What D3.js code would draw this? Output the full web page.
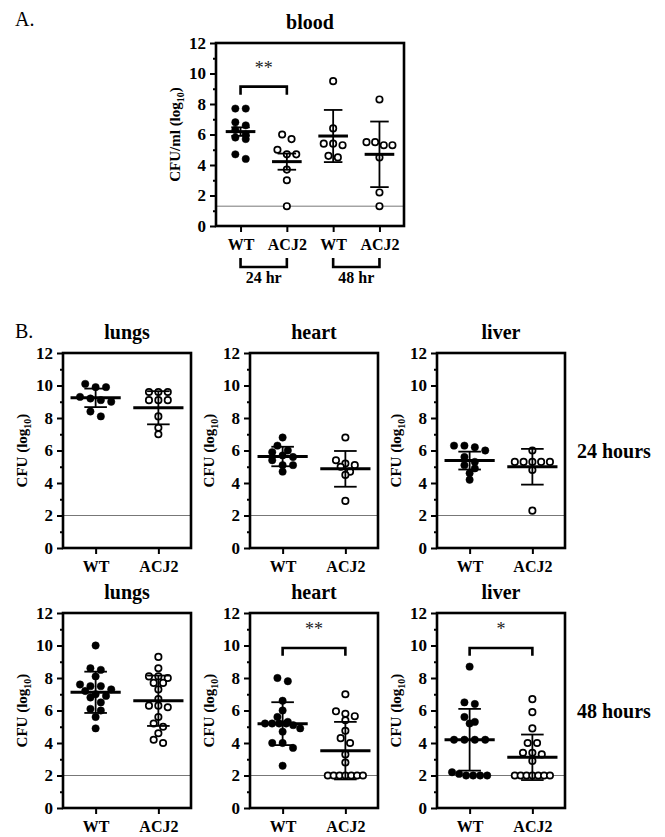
<!DOCTYPE html>
<html>
<head>
<meta charset="utf-8">
<script src="https://cdn.jsdelivr.net/npm/d3@7"></script>
<style>
  body { margin: 0; background: #fff; }
  text { font-family: "Liberation Serif", "Times New Roman", serif; }
</style>
</head>
<body>
<script>
// ---- data (log10 CFU) ----
const groups = ["WT", "ACJ2"];
const bloodGroups = ["WT", "ACJ2", "WT", "ACJ2"];
const bloodTimes = ["24 hr", "48 hr"];
const organs = ["lungs", "heart", "liver"];
const rowLabels = ["24 hours", "48 hours"];
const yTicks = [0, 2, 4, 6, 8, 10, 12];

const bloodWT24 = [7.7, 7.7, 6.8, 6.6, 6.3, 6.0, 5.8, 5.7, 4.7, 4.4];
const bloodACJ24 = [6.0, 5.7, 5.0, 4.7, 4.7, 3.7, 3.0, 1.3];
const bloodWT48 = [9.5, 6.4, 5.4, 5.4, 5.3, 4.6, 4.5];
const bloodACJ48 = [8.3, 5.5, 5.5, 5.3, 5.3, 4.5, 2.2, 1.3];
const bloodMean = [6.19, 4.22, 5.9, 4.7];
const bloodErr = [0.28, 0.53, 1.71, 2.15];
const bloodFilled = [true, false, false, false];

const lungs24WT = [10.1, 9.9, 9.9, 9.3, 9.2, 9.1, 9.0, 8.4, 8.1];
const lungs24ACJ = [9.6, 9.6, 9.6, 9.1, 9.1, 9.1, 8.1, 7.4, 7.0];
const heart24WT = [6.8, 6.3, 6.0, 5.9, 5.7, 5.6, 5.4, 5.1, 5.1, 4.7];
const heart24ACJ = [6.8, 5.4, 5.2, 5.1, 5.0, 4.7, 4.5, 2.9];
const liver24WT = [6.3, 6.3, 6.2, 6.0, 5.6, 5.3, 5.1, 4.9, 4.6, 4.2];
const liver24ACJ = [6.0, 5.3, 5.3, 5.3, 5.3, 5.3, 4.8, 2.3];
const mean24 = [[9.24, 8.63], [5.63, 4.87], [5.38, 5.0]];
const err24 = [[0.57, 1.02], [0.6, 1.1], [0.55, 1.1]];

const lungs48WT = [10.0, 8.6, 8.5, 8.1, 7.6, 7.5, 7.5, 7.3, 7.2, 7.0, 6.9, 6.8, 6.5, 6.1, 6.0, 5.6, 4.9];
const lungs48ACJ = [9.3, 8.6, 8.1, 8.1, 8.0, 7.7, 7.7, 7.3, 6.7, 6.3, 6.3, 6.2, 5.6, 5.2, 5.0, 4.6, 4.2, 4.0];
const heart48WT = [8.0, 7.8, 6.6, 6.0, 5.6, 5.3, 5.2, 5.2, 5.2, 5.2, 5.1, 4.9, 4.7, 4.0, 4.0, 3.7, 2.6];
const heart48ACJ = [7.0, 5.95, 5.8, 5.65, 5.4, 4.75, 4.3, 4.0, 3.3, 2.8, 2, 2, 2, 2, 2, 2, 2];
const liver48WT = [8.7, 6.5, 6.4, 5.6, 5.3, 5.2, 4.2, 4.2, 4.2, 4.2, 2.2, 2.1, 2.0, 2.0, 2.0, 2.0];
const liver48ACJ = [6.7, 5.9, 4.9, 4.0, 4.0, 3.4, 3.4, 3.3, 2.9, 2, 2, 2, 2, 2, 2, 2];
const mean48 = [[7.12, 6.6], [5.19, 3.53], [4.2, 3.12]];
const err48 = [[1.27, 1.55], [1.32, 1.77], [1.9, 1.4]];
const organFilled = [true, false];

// significance brackets: [bar height, drop-to, label]
const sigBlood = [9.14, 8.6, "**"];
const sig48 = [null, [9.85, 9.37, "**"], [9.85, 9.37, "*"]];

const detectBlood = 1.3;
const detectOrgan = 2;

const W = 665, H = 837;
const svg = d3.select("body").append("svg").attr("width", W).attr("height", H);

// rows of near-equal values spread sideways, like a column scatter
function swarm(values, y, r, maxHalf) {
  const out = [];
  let row = [];
  const flush = () => {
    const n = row.length;
    const s = n > 1 ? Math.min(2 * r + 3, (2 * maxHalf) / (n - 1)) : 0;
    row.forEach((p, i) => out.push({ v: p, dx: (i - (n - 1) / 2) * s }));
    row = [];
  };
  values.forEach(v => {
    if (row.length && Math.abs(y(row[0]) - y(v)) > 1.7 * r) flush();
    row.push(v);
  });
  flush();
  return out;
}

function panel(cfg) {
  const g = svg.append("g").attr("transform", `translate(${cfg.left},${cfg.top})`);
  const n = cfg.series.length;
  const x = d3.scalePoint().domain(d3.range(n)).range([0, cfg.width]).padding(cfg.pad);
  const y = d3.scaleLinear().domain([0, 12]).range([cfg.height, 0]);
  const step = x.step();

  // limit of detection
  g.append("line")
    .attr("x1", 0).attr("x2", cfg.width)
    .attr("y1", y(cfg.detect)).attr("y2", y(cfg.detect))
    .attr("stroke", "#777").attr("stroke-width", 1);

  // points
  cfg.series.forEach((vals, i) => {
    const filled = cfg.filled[i];
    const r = filled ? 3.7 : 3.2;
    g.append("g").selectAll("circle")
      .data(swarm(vals, y, r, step * 0.28))
      .join("circle")
      .attr("cx", d => x(i) + d.dx)
      .attr("cy", d => y(d.v))
      .attr("r", r)
      .attr("fill", filled ? "#000" : "#fff")
      .attr("stroke", "#000")
      .attr("stroke-width", filled ? 0.5 : 1.7);
  });

  // mean + error bars
  const eb = g.append("g").attr("stroke", "#000");
  cfg.means.forEach((m, i) => {
    const cx = x(i), lo = y(m - cfg.errs[i]), hi = y(m + cfg.errs[i]);
    const cap = step * cfg.cap, mw = step * cfg.meanW;
    eb.append("line").attr("x1", cx).attr("x2", cx).attr("y1", lo).attr("y2", hi).attr("stroke-width", 1.8);
    eb.append("line").attr("x1", cx - cap).attr("x2", cx + cap).attr("y1", lo).attr("y2", lo).attr("stroke-width", 1.8);
    eb.append("line").attr("x1", cx - cap).attr("x2", cx + cap).attr("y1", hi).attr("y2", hi).attr("stroke-width", 1.8);
    eb.append("line").attr("x1", cx - mw).attr("x2", cx + mw).attr("y1", y(m)).attr("y2", y(m)).attr("stroke-width", 3);
  });

  // frame
  g.append("rect").attr("width", cfg.width).attr("height", cfg.height)
    .attr("fill", "none").attr("stroke", "#000").attr("stroke-width", 2.6);

  // y axis, major + minor ticks
  const ya = g.append("g").call(d3.axisLeft(y).tickValues(yTicks).tickSize(6).tickPadding(4).tickFormat(d3.format("d")));
  ya.select(".domain").remove();
  ya.selectAll("line").attr("stroke-width", 2);
  ya.selectAll("text").attr("font-size", 17).attr("font-weight", "bold").attr("fill", "#000");
  const ym = g.append("g").call(d3.axisLeft(y).tickValues(d3.range(1, 12, 2)).tickSize(3).tickFormat(""));
  ym.select(".domain").remove();
  ym.selectAll("line").attr("stroke-width", 2);

  // x axis
  const xa = g.append("g").attr("transform", `translate(0,${cfg.height})`)
    .call(d3.axisBottom(x).tickSize(6).tickPadding(7).tickFormat(i => cfg.cats[i]));
  xa.select(".domain").remove();
  xa.selectAll("line").attr("stroke-width", 2);
  xa.selectAll("text").attr("font-size", 16).attr("font-weight", "bold").attr("fill", "#000");

  // title
  g.append("text").attr("x", cfg.width / 2).attr("y", -14)
    .attr("text-anchor", "middle").attr("font-size", 20).attr("font-weight", "bold")
    .text(cfg.title);

  // y label
  const yl = g.append("text")
    .attr("transform", `translate(${cfg.ylabX},${cfg.height / 2}) rotate(-90)`)
    .attr("text-anchor", "middle").attr("font-size", 15).attr("font-weight", "bold");
  yl.append("tspan").text(cfg.ylabel + " (log");
  yl.append("tspan").attr("font-size", 10).attr("dy", 4).text("10");
  yl.append("tspan").attr("dy", -4).text(")");

  // significance bracket
  if (cfg.sig) {
    const [top, drop, label] = cfg.sig;
    g.append("path")
      .attr("d", `M${x(0)},${y(drop)}V${y(top)}H${x(1)}V${y(drop)}`)
      .attr("fill", "none").attr("stroke", "#000").attr("stroke-width", 2.6);
    g.append("text").attr("x", (x(0) + x(1)) / 2).attr("y", y(top) - 13)
      .attr("text-anchor", "middle").attr("font-size", 18).attr("fill", "#222").text(label);
  }
  return { g, x, y };
}

// ---- A. blood ----
svg.append("text").attr("x", 15).attr("y", 26).attr("font-size", 20).text("A.");
const blood = panel({
  left: 216, top: 43, width: 188, height: 183, pad: 0.53,
  cats: bloodGroups, filled: bloodFilled, series: [bloodWT24, bloodACJ24, bloodWT48, bloodACJ48],
  means: bloodMean, errs: bloodErr, detect: detectBlood, cap: 0.2, meanW: 0.32,
  title: "blood", ylabel: "CFU/ml", ylabX: -36, sig: sigBlood
});
// time brackets under the blood panel
bloodTimes.forEach((t, k) => {
  const x0 = blood.x(2 * k), x1 = blood.x(2 * k + 1), yb = 183;
  blood.g.append("path").attr("d", `M${x0},${yb + 32}V${yb + 41}H${x1}V${yb + 32}`)
    .attr("fill", "none").attr("stroke", "#000").attr("stroke-width", 2.6);
  blood.g.append("text").attr("x", (x0 + x1) / 2).attr("y", yb + 57)
    .attr("text-anchor", "middle").attr("font-size", 16).attr("font-weight", "bold").text(t);
});

// ---- B. organs ----
svg.append("text").attr("x", 15).attr("y", 338).attr("font-size", 20).text("B.");
const rowTops = [353, 613];
const series24 = [[lungs24WT, lungs24ACJ], [heart24WT, heart24ACJ], [liver24WT, liver24ACJ]];
const series48 = [[lungs48WT, lungs48ACJ], [heart48WT, heart48ACJ], [liver48WT, liver48ACJ]];
[[series24, mean24, err24, [null, null, null]], [series48, mean48, err48, sig48]].forEach(([ser, mn, er, sg], r) => {
  organs.forEach((o, c) => {
    panel({
      left: 63 + c * 187, top: rowTops[r], width: 128, height: 195, pad: 0.52,
      cats: groups, filled: organFilled, series: ser[c], means: mn[c], errs: er[c], detect: detectOrgan,
      cap: 0.18, meanW: 0.4, title: o, ylabel: "CFU", ylabX: -36, sig: sg[c]
    });
  });
  svg.append("text").attr("x", 577).attr("y", rowTops[r] + 97.5).attr("dy", "0.36em")
    .attr("font-size", 20).attr("font-weight", "bold").text(rowLabels[r]);
});
</script>
</body>
</html>
